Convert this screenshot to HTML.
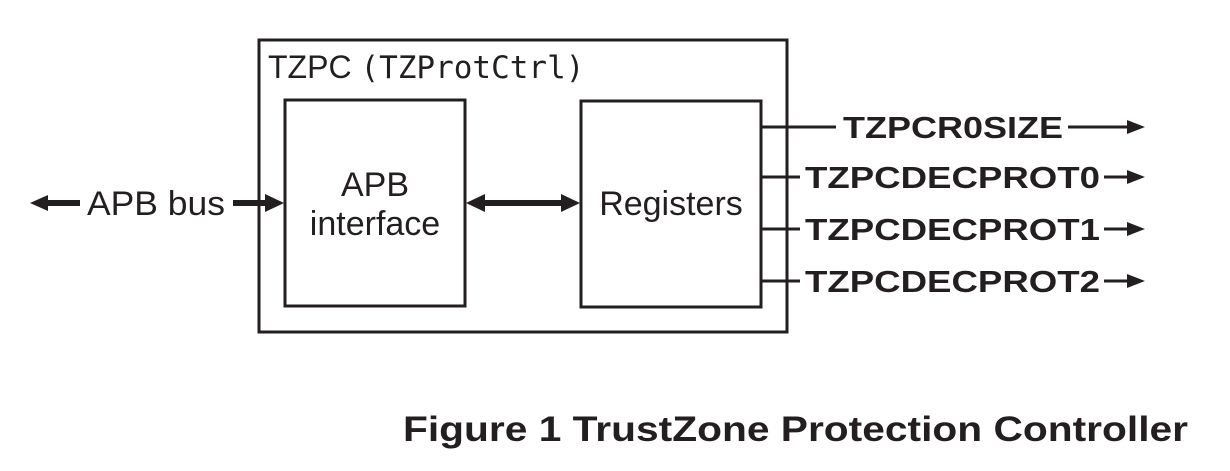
<!DOCTYPE html>
<html><head><meta charset="utf-8"><style>html,body{margin:0;padding:0;background:#fff}</style></head>
<body>
<svg width="1230" height="466" viewBox="0 0 1230 466" xmlns="http://www.w3.org/2000/svg" font-family="Liberation Sans, Arial, sans-serif" fill="#231f20">
<g fill="none" stroke="#231f20" stroke-width="3">
<rect x="259" y="40" width="528" height="292"/>
<rect x="285" y="100" width="180" height="206"/>
<rect x="581" y="101" width="180" height="206"/>
<line x1="761" y1="127" x2="836" y2="127"/>
<line x1="1068" y1="127" x2="1128" y2="127"/>
<line x1="761" y1="177" x2="800" y2="177"/>
<line x1="1104" y1="177" x2="1128" y2="177"/>
<line x1="761" y1="229" x2="800" y2="229"/>
<line x1="1104" y1="229" x2="1128" y2="229"/>
<line x1="761" y1="281" x2="800" y2="281"/>
<line x1="1104" y1="281" x2="1128" y2="281"/>
</g>
<g stroke="#231f20" stroke-width="6">
<line x1="44" y1="203" x2="80" y2="203"/>
<line x1="233" y1="203" x2="268" y2="203"/>
<line x1="484" y1="203" x2="562" y2="203"/>
</g>
<polygon points="30,203 48,195 48,211"/>
<polygon points="284,203 265,194 265,212"/>
<polygon points="466,203 485,194 485,212"/>
<polygon points="580,203 561,194 561,212"/>
<polygon points="1145,127 1127,120 1127,134"/>
<polygon points="1145,177 1127,170 1127,184"/>
<polygon points="1145,229 1127,222 1127,236"/>
<polygon points="1145,281 1127,274 1127,288"/>
<text x="268" y="78" font-size="32">TZPC <tspan font-family="DejaVu Sans Mono, Liberation Mono, monospace" font-size="31">(TZProtCtrl)</tspan></text>
<text x="375" y="196" font-size="34" text-anchor="middle">APB</text>
<text x="375" y="235" font-size="34" text-anchor="middle">interface</text>
<text x="671" y="215" font-size="34" text-anchor="middle">Registers</text>
<text x="87" y="215" font-size="34" textLength="138" lengthAdjust="spacingAndGlyphs">APB bus</text>
<g font-weight="bold" font-size="31">
<text x="843" y="138" textLength="220" lengthAdjust="spacingAndGlyphs">TZPCR0SIZE</text>
<text x="805" y="188" textLength="295" lengthAdjust="spacingAndGlyphs">TZPCDECPROT0</text>
<text x="805" y="240" textLength="295" lengthAdjust="spacingAndGlyphs">TZPCDECPROT1</text>
<text x="805" y="292" textLength="295" lengthAdjust="spacingAndGlyphs">TZPCDECPROT2</text>
</g>
<text x="403" y="441" font-size="35" font-weight="bold" textLength="785" lengthAdjust="spacingAndGlyphs">Figure 1 TrustZone Protection Controller</text>
</svg>
</body></html>
